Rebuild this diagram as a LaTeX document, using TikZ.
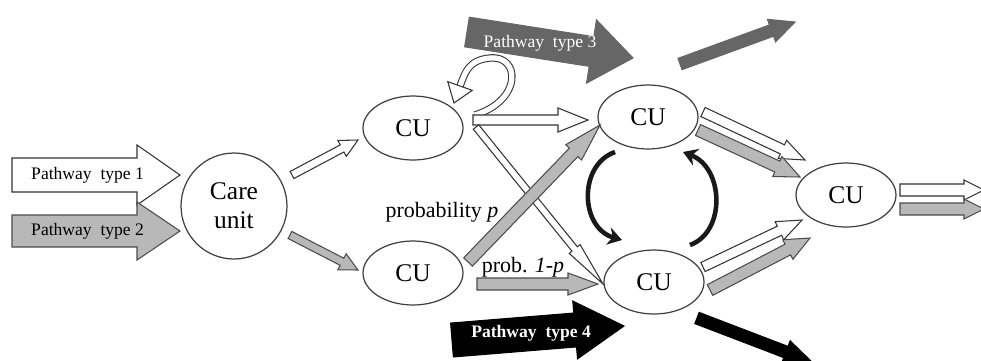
\documentclass[tikz,border=0pt]{standalone}
\usepackage{fontspec}
\setmainfont{Liberation Serif}
\usetikzlibrary{calc, arrows.meta, shapes.geometric}

\definecolor{pwgray}{RGB}{184,184,184}
\definecolor{pwdark}{RGB}{102,102,102}

% block arrow: [style]{tail}{tip}{shaft half width}{head half width}{head length}, in px
\newcommand{\blockarrow}[6][]{%
  \coordinate (ba) at ($(#3)!#6*0.02cm!(#2)$);
  \draw[#1] ($(#2)!#4*0.02cm!90:(#3)$) -- ($(ba)!#4*0.02cm!90:(#3)$)
    -- ($(ba)!#5*0.02cm!90:(#3)$) -- (#3) -- ($(ba)!#5*0.02cm!-90:(#3)$)
    -- ($(ba)!#4*0.02cm!-90:(#3)$) -- ($(#2)!#4*0.02cm!-90:(#3)$) -- cycle;
}

\begin{document}
\begin{tikzpicture}[
            x = 0.02cm, y = -0.02cm,
            every node/.style = {inner sep = 0pt},
            unit/.style = {
                draw = black!75,
                line width = 0.7pt,
                fill = white,
                ellipse,
                minimum width = 2cm,
                minimum height = 1.28cm,
                font = \fontsize{14.5}{16.5}\selectfont
            },
            careunit/.style = {
                unit,
                circle,
                align = center,
                minimum size = 2.12cm
            },
            wflow/.style = {draw = black!80, fill = white, line width = 0.6pt},
            gflow/.style = {draw = black!70, fill = pwgray, line width = 0.6pt},
            dflow/.style = {draw = black!60, fill = pwdark, line width = 0.6pt},
            kflow/.style = {draw = black, fill = black, line width = 0.6pt},
            loopflow/.style = {
                draw = black!80,
                line width = 0.6pt,
                double = white,
                double distance = 3pt
            },
            turn/.style = {
                draw = black!90,
                line width = 2.6pt,
                -{Stealth[length = 8pt, width = 10pt]}
            },
            pwlabel/.style = {font = \fontsize{10}{12}\selectfont},
            problabel/.style = {font = \fontsize{12.5}{14}\selectfont}
        ]
    \useasboundingbox (0,0) rectangle (981,360);

    \node[careunit] (care) at (234,206) {Care\\unit};
    \node[unit] (cu1) at (413,128) {CU};
    \node[unit] (cu2) at (413,273) {CU};
    \node[unit] (cu3) at (648,117) {CU};
    \node[unit] (cu4) at (654,282) {CU};
    \node[unit] (cu5) at (846,195) {CU};

    \coordinate (p1s) at (12,175);
    \coordinate (p1e) at ($(care)+(-54,-31)$);
    \coordinate (p2s) at (12,231);
    \coordinate (p2e) at ($(care)+(-54,25)$);
    \coordinate (a1s) at ($(care)+(58,-31)$);
    \coordinate (a1e) at ($(cu1)+(-55,12)$);
    \coordinate (a2s) at ($(care)+(56,29)$);
    \coordinate (a2e) at ($(cu2)+(-55,-3)$);
    \coordinate (a3s) at ($(cu1)+(60,-8)$);
    \coordinate (a3e) at ($(cu3)+(-60,3)$);
    \coordinate (a4s) at ($(cu1)+(63,-1)$);
    \coordinate (a4e) at ($(cu4)+(-51,2)$);
    \coordinate (a5s) at ($(cu2)+(55,-11)$);
    \coordinate (a5e) at ($(cu3)+(-48,8)$);
    \coordinate (a6s) at ($(cu2)+(64,11)$);
    \coordinate (a6e) at ($(cu4)+(-56,2)$);
    \coordinate (p3s) at (467,32);
    \coordinate (p3e) at (633,58);
    \coordinate (p3os) at ($(cu3)+(32,-53)$);
    \coordinate (p3oe) at (795,22);
    \coordinate (p4s) at (452,340);
    \coordinate (p4e) at ($(cu4)+(-30,44)$);
    \coordinate (p4os) at ($(cu4)+(43,36)$);
    \coordinate (p4oe) at (812,362);
    \coordinate (a7s) at ($(cu3)+(55,-5)$);
    \coordinate (a7e) at ($(cu5)+(-41,-35)$);
    \coordinate (a8s) at ($(cu3)+(50,13)$);
    \coordinate (a8e) at ($(cu5)+(-46,-18)$);
    \coordinate (a9s) at ($(cu4)+(49,-15)$);
    \coordinate (a9e) at ($(cu5)+(-44,25)$);
    \coordinate (a10s) at ($(cu4)+(56,8)$);
    \coordinate (a10e) at ($(cu5)+(-36,43)$);
    \coordinate (o1s) at ($(cu5)+(54,-5)$);
    \coordinate (o1e) at (984,190);
    \coordinate (o2s) at ($(cu5)+(54,14)$);
    \coordinate (o2e) at (984,209);
    \coordinate (ls) at ($(cu1)+(62,-13)$);
    \coordinate (ltop) at ($(cu1)+(77,-70)$);
    \coordinate (lb) at ($(cu1)+(47,-42)$);
    \coordinate (lt) at ($(cu1)+(41,-25)$);
    \coordinate (t1s) at ($(cu3)+(-33,35)$);
    \coordinate (t1e) at ($(cu4)+(-32,-42)$);
    \coordinate (t2s) at ($(cu4)+(36,-37)$);
    \coordinate (t2e) at ($(cu3)+(35,35)$);

    \blockarrow[wflow]{p1s}{p1e}{17}{30}{43}
    \blockarrow[gflow]{p2s}{p2e}{16}{29}{43}
    \node[pwlabel] (p1lab) at ($(p1s)!0.45!(p1e)$) {Pathway~ type 1};
    \node[pwlabel] (p2lab) at ($(p2s)!0.45!(p2e)$) {Pathway~ type 2};

    \blockarrow[wflow]{a1s}{a1e}{4}{9}{18}
    \blockarrow[gflow]{a2s}{a2e}{4}{9}{18}

    \draw[loopflow] (ls) .. controls +(48,-15) and +(30,-3) .. (ltop)
        .. controls +(-22,2) and +(5,-13) .. (lb);
    \draw[wflow] ($(lb)!13*0.02cm!90:(lt)$) -- (lt) -- ($(lb)!13*0.02cm!-90:(lt)$) -- cycle;

    \blockarrow[wflow]{a3s}{a3e}{5}{12}{30}
    \blockarrow[wflow]{a4s}{a4e}{3.5}{7}{45}
    \blockarrow[gflow]{a5s}{a5e}{6}{11}{38}
    \blockarrow[gflow]{a6s}{a6e}{6}{11}{30}
    \node[problabel] (plab) at ($(cu2)+(29,-61)$) {probability \textit{p}};
    \node[problabel] (qlab) at ($(cu2)+(110,-6)$) {prob. \textit{1-p}};

    \blockarrow[dflow]{p3s}{p3e}{15}{32}{42}
    \node[pwlabel, text = white] (p3lab) at ($(p3s)!0.44!(p3e)$) {Pathway~ type 3};
    \blockarrow[dflow]{p3os}{p3oe}{6}{12}{25}

    \blockarrow[kflow]{p4s}{p4e}{17}{29}{49}
    \node[pwlabel, text = white, font = \fontsize{10}{12}\selectfont\bfseries] (p4lab) at ($(p4s)!0.46!(p4e)$) {Pathway~ type 4};
    \blockarrow[kflow]{p4os}{p4oe}{6}{12}{28}

    \draw[turn] (t1s) .. controls +(-37,13) and +(-42,-12) .. (t1e);
    \draw[turn] (t2s) .. controls +(36,-13) and +(41,16) .. (t2e);

    \blockarrow[wflow]{a7s}{a7e}{5}{10}{25}
    \blockarrow[gflow]{a8s}{a8e}{6}{11}{25}
    \blockarrow[wflow]{a9s}{a9e}{5}{10}{25}
    \blockarrow[gflow]{a10s}{a10e}{6}{11}{25}

    \blockarrow[wflow]{o1s}{o1e}{6}{10}{20}
    \blockarrow[gflow]{o2s}{o2e}{6}{10}{20}
\end{tikzpicture}
\end{document}
